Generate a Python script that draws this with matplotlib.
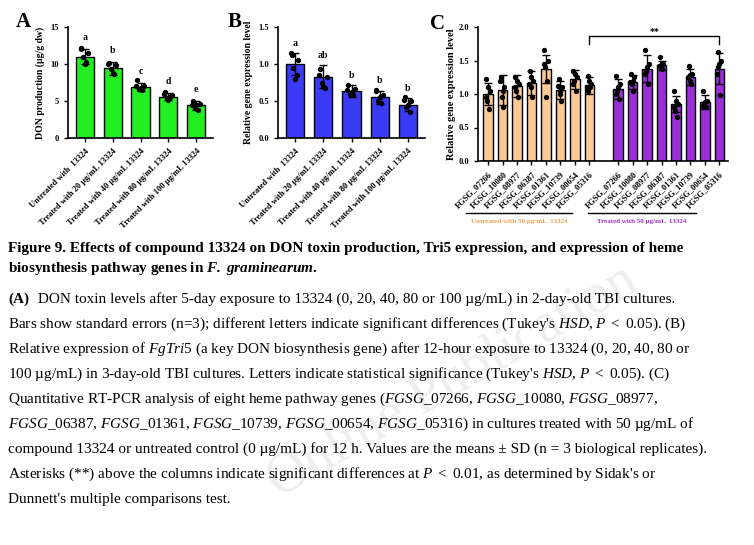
import matplotlib.pyplot as plt
import numpy as np

plt.rcParams['font.family'] = ['Liberation Serif', 'DejaVu Serif']
plt.rcParams['font.weight'] = 'normal'
plt.rcParams['mathtext.fontset'] = 'custom'
plt.rcParams['mathtext.rm'] = 'Liberation Serif'
plt.rcParams['mathtext.it'] = 'Liberation Serif:italic'
plt.rcParams['mathtext.bf'] = 'Liberation Serif:bold:italic'

# panel A / B
ab_labels = ["Untreated with  13324", "Treated with 20 \u00b5g/mL 13324",
             "Treated with 40 \u00b5g/mL 13324", "Treated with 80 \u00b5g/mL 13324",
             "Treated with 100 \u00b5g/mL 13324"]
don_mean = [11.0, 9.4, 6.9, 5.6, 4.4]
don_sd = [1.0, 0.9, 0.6, 0.5, 0.6]
don_pts = [[12.2, 11.5, 11.0, 10.3, 10.0, 12.0],
           [10.2, 9.8, 9.3, 8.6, 8.8, 10.0],
           [7.9, 7.0, 6.6, 6.5, 6.8, 7.0],
           [6.2, 5.8, 5.4, 5.5, 5.2, 6.0],
           [5.0, 4.6, 4.0, 3.8, 4.4, 4.5]]
don_letters = ["a", "b", "c", "d", "e"]

tri_mean = [1.00, 0.83, 0.63, 0.55, 0.45]
tri_sd = [0.15, 0.15, 0.08, 0.09, 0.09]
tri_pts = [[1.12, 1.05, 0.95, 0.85, 0.80, 1.15],
           [0.93, 0.82, 0.75, 0.68, 0.70, 0.85],
           [0.72, 0.66, 0.60, 0.58, 0.62, 0.65],
           [0.65, 0.58, 0.50, 0.47, 0.55, 0.63],
           [0.55, 0.50, 0.42, 0.35, 0.45, 0.52]]
tri_letters = ["a", "ab", "b", "b", "b"]

# panel C
genes = ["FGSG_07266", "FGSG_10080", "FGSG_08977", "FGSG_06387",
         "FGSG_01361", "FGSG_10739", "FGSG_00654", "FGSG_05316"]
unt_mean = [1.00, 1.06, 1.12, 1.17, 1.37, 1.06, 1.22, 1.13]
unt_sd = [0.17, 0.22, 0.17, 0.18, 0.21, 0.14, 0.14, 0.13]
unt_pts = [[1.22, 1.05, 0.90, 0.78, 1.10, 0.95],
           [1.25, 1.10, 0.95, 0.80, 1.05, 1.20],
           [1.25, 1.15, 1.05, 0.95, 1.20, 1.10],
           [1.35, 1.20, 1.10, 0.95, 1.25, 1.15],
           [1.65, 1.50, 1.40, 1.20, 0.95, 1.45],
           [1.22, 1.10, 1.00, 0.90, 1.05, 1.12],
           [1.35, 1.25, 1.20, 1.05, 1.30, 1.15],
           [1.27, 1.15, 1.05, 1.10, 1.20, 1.10]]
trt_mean = [1.08, 1.18, 1.38, 1.43, 0.85, 1.26, 0.88, 1.38]
trt_sd = [0.15, 0.10, 0.20, 0.07, 0.12, 0.12, 0.11, 0.23]
trt_pts = [[1.27, 1.15, 1.05, 0.93, 1.10, 1.00],
           [1.30, 1.25, 1.15, 1.05, 1.20, 1.18],
           [1.65, 1.45, 1.35, 1.15, 1.40, 1.30],
           [1.55, 1.45, 1.40, 1.38, 1.47, 1.42],
           [1.05, 0.85, 0.75, 0.65, 0.90, 0.80],
           [1.42, 1.30, 1.20, 1.15, 1.28, 1.25],
           [1.05, 0.90, 0.85, 0.80, 0.88, 0.82],
           [1.63, 1.50, 1.40, 0.98, 1.45, 1.30]]

W, H = 754, 545
fig = plt.figure(figsize=(W / 100, H / 100), dpi=100)


def ax_px(x0, y0, x1, y1):
    return fig.add_axes([x0 / W, 1 - y1 / H, (x1 - x0) / W, (y1 - y0) / H])


def style(ax):
    for s in ["top", "right"]:
        ax.spines[s].set_visible(False)
    for s in ["left", "bottom"]:
        ax.spines[s].set_linewidth(1.2)
    ax.tick_params(labelsize=6, width=1.0, length=3)
    for t in ax.get_xticklabels() + ax.get_yticklabels():
        t.set_fontweight("bold")


def bars(ax, x, mean, sd, pts, color):
    ax.bar(x, mean, width=0.65, color=color, edgecolor="black", linewidth=1.0, zorder=1)
    ax.errorbar(x, mean, yerr=sd, fmt="none", ecolor="black", elinewidth=1.0,
                capsize=3, capthick=1.0, zorder=2)
    offs = [-0.12, 0.12, -0.06, 0.06, 0.0, -0.15]
    for xi, p in zip(x, pts):
        ax.scatter([xi + o for o in offs], p, s=8, color="black", zorder=3)


# A
axA = ax_px(68, 27, 213, 138)
xa = np.arange(5)
bars(axA, xa, don_mean, don_sd, don_pts, "#22ee22")
axA.set_ylim(0, 15)
axA.set_yticks([0, 5, 10, 15])
axA.set_xlim(-0.6, 4.6)
axA.set_xticks(xa)
axA.set_xticklabels(ab_labels, rotation=45, ha="right", rotation_mode="anchor", fontsize=6)
axA.set_ylabel("DON production (\u00b5g/g dw)", fontsize=7, fontweight="bold")
style(axA)
for xi, m, s, l in zip(xa, don_mean, don_sd, don_letters):
    axA.text(xi, m + s + 1.2, l, ha="center", fontsize=7, fontweight="bold")
fig.text(16 / W, 1 - 27 / H, "A", fontsize=15, fontweight="bold")

# B
axB = ax_px(278, 27, 425, 138)
bars(axB, xa, tri_mean, tri_sd, tri_pts, "#3b3bf5")
axB.set_ylim(0, 1.5)
axB.set_yticks([0, 0.5, 1.0, 1.5])
axB.set_yticklabels(["0.0", "0.5", "1.0", "1.5"])
axB.set_xlim(-0.6, 4.6)
axB.set_xticks(xa)
axB.set_xticklabels(ab_labels, rotation=45, ha="right", rotation_mode="anchor", fontsize=6)
axB.set_ylabel("Relative gene expression level", fontsize=7, fontweight="bold")
style(axB)
for xi, m, s, l in zip(xa, tri_mean, tri_sd, tri_letters):
    axB.text(xi, m + s + 0.1, l, ha="center", fontsize=7, fontweight="bold")
fig.text(228 / W, 1 - 27 / H, "B", fontsize=15, fontweight="bold")

# C
axC = ax_px(478, 27, 728, 161)
xu = np.arange(8)
xt = np.arange(8) + 9
bars(axC, xu, unt_mean, unt_sd, unt_pts, "#fcc995")
bars(axC, xt, trt_mean, trt_sd, trt_pts, "#9b30d9")
axC.set_ylim(0, 2.0)
axC.set_yticks([0, 0.5, 1.0, 1.5, 2.0])
axC.set_yticklabels(["0.0", "0.5", "1.0", "1.5", "2.0"])
axC.set_xlim(-0.7, 16.6)
axC.set_xticks(list(xu) + list(xt))
axC.set_xticklabels(genes + genes, rotation=45, ha="right", rotation_mode="anchor", fontsize=5.5)
axC.set_ylabel("Relative gene expression level", fontsize=7.5, fontweight="bold", labelpad=2)
style(axC)
axC.plot([7, 7, 16, 16], [1.75, 1.86, 1.86, 1.75], color="black", lw=1.0)
axC.text(11.5, 1.89, "**", ha="center", fontsize=7, fontweight="bold")
fig.text(430 / W, 1 - 29 / H, "C", fontsize=15, fontweight="bold")

# group lines under panel C
fig.add_artist(plt.Line2D([466 / W, 572 / W], [1 - 213 / H] * 2, color="black", lw=1.0))
fig.add_artist(plt.Line2D([588 / W, 696 / W], [1 - 213 / H] * 2, color="black", lw=1.0))
fig.text(519 / W, 1 - 223 / H, "Untreated with 50 \u00b5g/mL  13324", ha="center",
         fontsize=5, color="#f0a050", fontweight="bold")
fig.text(642 / W, 1 - 223 / H, "Treated with 50 \u00b5g/mL  13324", ha="center",
         fontsize=5, color="#a030d0", fontweight="bold")

# caption
fs = 11
fig.text(8 / W, 1 - 252 / H, "Figure 9. Effects of compound 13324 on DON toxin production, Tri5 expression, and expression of heme",
         fontsize=fs, fontweight="bold")
fig.text(8 / W, 1 - 272 / H, r"biosynthesis pathway genes in $\mathbf{F.\ graminearum}$.",
         fontsize=fs, fontweight="bold")
lines = [
    "(A) DON toxin levels after 5-day exposure to 13324 (0, 20, 40, 80 or 100 \u00b5g/mL) in 2-day-old TBI cultures.",
    r"Bars show standard errors (n=3); different letters indicate significant differences (Tukey's $\it{HSD}$, $\it{P\ <\ 0.05}$). (B)",
    r"Relative expression of $\it{FgTri5}$ (a key DON biosynthesis gene) after 12-hour exposure to 13324 (0, 20, 40, 80 or",
    r"100 µg/mL) in 3-day-old TBI cultures. Letters indicate statistical significance (Tukey's $\it{HSD}$, $\it{P\ <\ 0.05}$). (C)",
    r"Quantitative RT-PCR analysis of eight heme pathway genes ($\it{FGSG\_07266}$, $\it{FGSG\_10080}$, $\it{FGSG\_08977}$,",
    r"$\it{FGSG\_06387}$, $\it{FGSG\_01361}$, $\it{FGSG\_10739}$, $\it{FGSG\_00654}$, $\it{FGSG\_05316}$) in cultures treated with 50 µg/mL of",
    "compound 13324 or untreated control (0 \u00b5g/mL) for 12 h. Values are the means \u00b1 SD (n = 3 biological replicates).",
    r"Asterisks (**) above the columns indicate significant differences at $\it{P\ <\ 0.01}$, as determined by Sidak's or",
    "Dunnett's multiple comparisons test.",
]
for i, ln in enumerate(lines):
    t = fig.text(8 / W, 1 - (303 + 25 * i) / H, ln, fontsize=fs)
    if i == 0:
        t.set_text(ln[3:])
        t.set_position(((8 + 26) / W, 1 - 303 / H))
        fig.text(8 / W, 1 - 303 / H, "(A)", fontsize=fs, fontweight="bold")

fig.text(0.6, 0.3, "Online Publication", fontsize=40, color="#dddddd", alpha=0.5,
         rotation=30, ha="center", va="center", zorder=0)

fig.savefig("out.png", dpi=100)
